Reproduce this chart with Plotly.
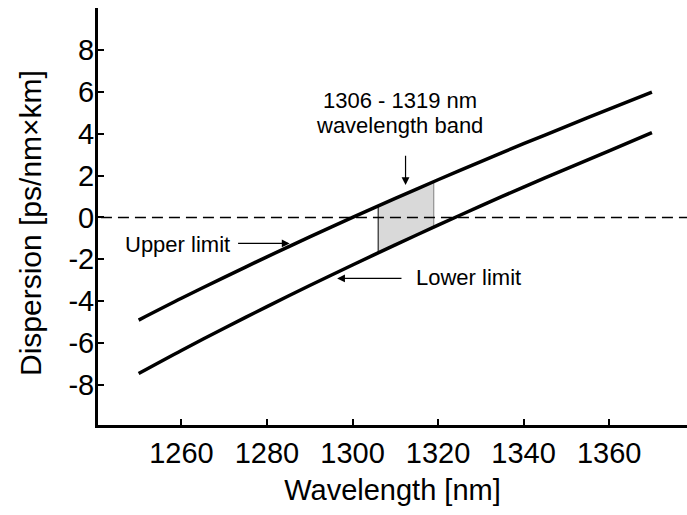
import plotly.graph_objects as go

# Data
wavelength = [1250, 1260, 1270, 1280, 1290, 1300, 1310, 1320, 1330, 1340, 1350, 1360, 1370]
upper_limit = [-4.9, -3.86, -2.86, -1.88, -0.93, 0.0, 0.91, 1.80, 2.67, 3.52, 4.35, 5.17, 5.98]
lower_limit = [-7.45, -6.35, -5.29, -4.26, -3.25, -2.27, -1.31, -0.37, 0.55, 1.45, 2.32, 3.18, 4.05]

band_lambda = [1306, 1319]
band_upper = [0.55, 1.72]
band_lower = [-1.70, -0.46]

x_tickvals = [1260, 1280, 1300, 1320, 1340, 1360]
x_ticktext = ["1260", "1280", "1300", "1320", "1340", "1360"]
y_tickvals = [-8, -6, -4, -2, 0, 2, 4, 6, 8, 10]
y_ticktext = ["-8", "-6", "-4", "-2", "0", "2", "4", "6", "8", ""]

FONT = "Liberation Sans, Arial, sans-serif"

fig = go.Figure()

# shaded band
fig.add_trace(go.Scatter(
    x=[band_lambda[0], band_lambda[1], band_lambda[1], band_lambda[0], band_lambda[0]],
    y=[band_upper[0], band_upper[1], band_lower[1], band_lower[0], band_upper[0]],
    fill="toself", fillcolor="#d9d9d9", mode="lines", line=dict(width=0),
    hoverinfo="skip", showlegend=False))
# band edges
fig.add_trace(go.Scatter(x=[band_lambda[0], band_lambda[0]], y=[band_upper[0], band_lower[0]],
                         mode="lines", line=dict(color="black", width=1), showlegend=False))
fig.add_trace(go.Scatter(x=[band_lambda[1], band_lambda[1]], y=[band_upper[1], band_lower[1]],
                         mode="lines", line=dict(color="#808080", width=1), showlegend=False))

# curves
fig.add_trace(go.Scatter(x=wavelength, y=upper_limit, mode="lines",
                         line=dict(color="black", width=3.5, shape="spline", smoothing=0.8),
                         showlegend=False))
fig.add_trace(go.Scatter(x=wavelength, y=lower_limit, mode="lines",
                         line=dict(color="black", width=3.5, shape="spline", smoothing=0.8),
                         showlegend=False))

# dashed zero line
fig.add_shape(type="line", xref="paper", x0=0.005, x1=1, yref="y", y0=0, y1=0,
              line=dict(color="black", width=1.5, dash="11px,6px"), layer="above")

ann_font = dict(family=FONT, size=22, color="black")
annotations = [
    dict(x=1259.1, y=-1.27, text="Upper limit", showarrow=False, font=ann_font,
         xanchor="center", yanchor="middle"),
    dict(x=1327.1, y=-2.87, text="Lower limit", showarrow=False, font=ann_font,
         xanchor="center", yanchor="middle"),
    dict(x=1311.1, y=5.56, text="1306 - 1319 nm", showarrow=False, font=ann_font,
         xanchor="center", yanchor="middle"),
    dict(x=1311.1, y=4.37, text="wavelength band", showarrow=False, font=ann_font,
         xanchor="center", yanchor="middle"),
    # y-axis title
    dict(x=-0.1154, y=0.4844, xref="paper", yref="paper", text="Dispersion [ps/nm×km]",
         textangle=-90, showarrow=False, xanchor="center", yanchor="middle",
         font=dict(family=FONT, size=30, color="black")),
    # arrows
    dict(x=1285.3, y=-1.24, ax=1272.9, ay=-1.24, xref="x", yref="y", axref="x", ayref="y",
         text="", showarrow=True, arrowhead=2, arrowsize=1.3, arrowwidth=1.2, arrowcolor="black", standoff=0),
    dict(x=1296.4, y=-2.91, ax=1311.8, ay=-2.91, xref="x", yref="y", axref="x", ayref="y",
         text="", showarrow=True, arrowhead=2, arrowsize=1.3, arrowwidth=1.2, arrowcolor="black", standoff=0),
    dict(x=1312.4, y=1.55, ax=1312.4, ay=3.02, xref="x", yref="y", axref="x", ayref="y",
         text="", showarrow=True, arrowhead=2, arrowsize=1.3, arrowwidth=1.2, arrowcolor="black", standoff=0),
]

fig.update_layout(
    width=687, height=515,
    margin=dict(l=98, r=0, t=8, b=90),
    paper_bgcolor="white", plot_bgcolor="white",
    font=dict(family=FONT, color="black"),
    annotations=annotations,
    xaxis=dict(range=[1240.5, 1378.2], showgrid=False, zeroline=False,
               showline=True, linecolor="black", linewidth=3,
               ticks="inside", ticklen=6, tickwidth=2, tickcolor="black",
               tickvals=x_tickvals, ticktext=x_ticktext,
               tickfont=dict(family=FONT, size=29),
               title=dict(text="Wavelength [nm]", font=dict(family=FONT, size=29), standoff=12)),
    yaxis=dict(range=[-9.91, 10.0], showgrid=False, zeroline=False,
               showline=True, linecolor="black", linewidth=3,
               ticks="inside", ticklen=6, tickwidth=2, tickcolor="black",
               tickvals=y_tickvals, ticktext=y_ticktext, ticklabelstandoff=-5,
               tickfont=dict(family=FONT, size=29)),
)

fig.write_html("out.html")
